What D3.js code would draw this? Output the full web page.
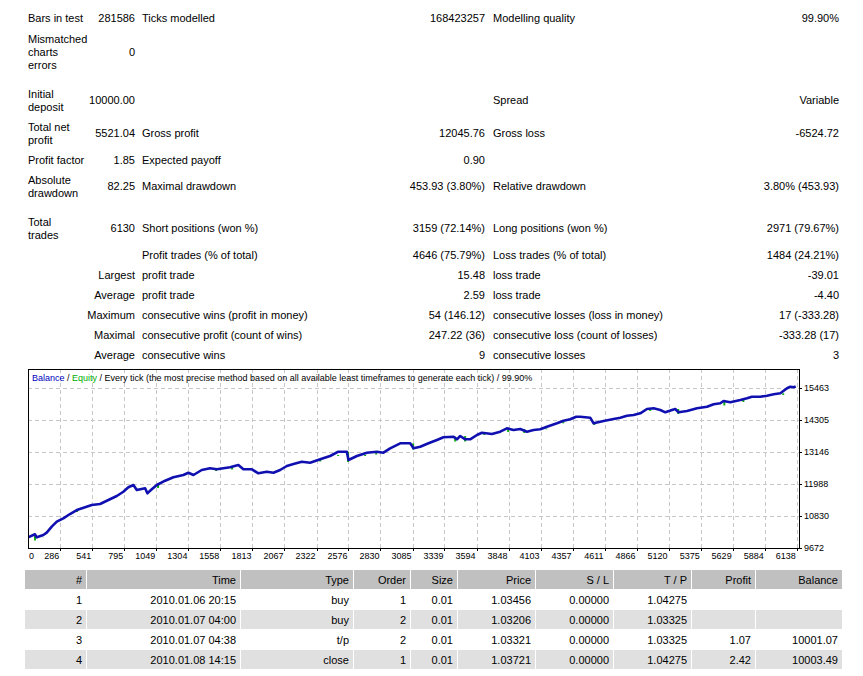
<!DOCTYPE html>
<html>
<head>
<meta charset="utf-8">
<script src="https://cdn.jsdelivr.net/npm/d3@7"></script>
<style>
  body { margin: 0; background: #fff; }
  svg text { font-family: Tahoma, "Liberation Sans", Arial, sans-serif; fill: #000; }
</style>
</head>
<body>
<div id="report"></div>
<script>
// summary table text, one row per line of the report
const statRows = [
  ["Bars in test", "281586", "Ticks modelled", "168423257", "Modelling quality", "99.90%"],
  ["Mismatched\ncharts\nerrors", "0", "", "", "", ""],
  ["Initial\ndeposit", "10000.00", "", "", "Spread", "Variable"],
  ["Total net\nprofit", "5521.04", "Gross profit", "12045.76", "Gross loss", "-6524.72"],
  ["Profit factor", "1.85", "Expected payoff", "0.90", "", ""],
  ["Absolute\ndrawdown", "82.25", "Maximal drawdown", "453.93 (3.80%)", "Relative drawdown", "3.80% (453.93)"],
  ["Total\ntrades", "6130", "Short positions (won %)", "3159 (72.14%)", "Long positions (won %)", "2971 (79.67%)"],
  ["", "", "Profit trades (% of total)", "4646 (75.79%)", "Loss trades (% of total)", "1484 (24.21%)"],
  ["", "Largest", "profit trade", "15.48", "loss trade", "-39.01"],
  ["", "Average", "profit trade", "2.59", "loss trade", "-4.40"],
  ["", "Maximum", "consecutive wins (profit in money)", "54 (146.12)", "consecutive losses (loss in money)", "17 (-333.28)"],
  ["", "Maximal", "consecutive profit (count of wins)", "247.22 (36)", "consecutive loss (count of losses)", "-333.28 (17)"],
  ["", "Average", "consecutive wins", "9", "consecutive losses", "3"]
];

// balance curve (trade number -> balance)
const tradeIdx = [0, 85, 99, 151, 178, 218, 258, 310, 363, 417, 483, 536, 602, 668, 735, 787, 827, 867, 894, 960,
  978, 1013, 1053, 1119, 1185, 1264, 1304, 1344, 1410, 1476, 1530, 1582, 1635, 1701, 1741, 1808, 1860, 1927, 1980, 2033,
  2086, 2139, 2205, 2271, 2351, 2430, 2496, 2563, 2576, 2643, 2722, 2802, 2854, 2907, 2987, 3066, 3093, 3146, 3212, 3279,
  3331, 3411, 3438, 3464, 3504, 3543, 3597, 3636, 3716, 3782, 3835, 3888, 3941, 3994, 4047, 4100, 4153, 4233, 4285, 4338,
  4386, 4418, 4497, 4524, 4603, 4683, 4736, 4789, 4842, 4895, 4948, 5001, 5054, 5094, 5147, 5173, 5199, 5266, 5346, 5425,
  5478, 5531, 5557, 5610, 5690, 5743, 5782, 5849, 5902, 5955, 6008, 6061, 6088, 6114, 6130];
const balance = [10000, 10168, 10059, 10142, 10226, 10443, 10624, 10747, 10902, 11047, 11145, 11228, 11264, 11409, 11554, 11709, 11869, 11952, 11771, 11833,
  11652, 11796, 11952, 12108, 12231, 12314, 12397, 12314, 12495, 12556, 12520, 12556, 12593, 12676, 12520, 12520, 12375, 12433, 12397, 12495,
  12640, 12712, 12795, 12759, 12882, 13001, 13157, 13157, 12857, 13001, 13121, 13157, 13121, 13280, 13461, 13461, 13280, 13338, 13461, 13581,
  13678, 13700, 13606, 13725, 13606, 13606, 13762, 13845, 13798, 13881, 14004, 13942, 13979, 13881, 13942, 13968, 14062, 14185, 14279, 14330,
  14424, 14424, 14388, 14185, 14268, 14340, 14388, 14460, 14485, 14547, 14703, 14728, 14666, 14583, 14666, 14703, 14583, 14630, 14728, 14786,
  14873, 14909, 14992, 14945, 15028, 15090, 15148, 15148, 15184, 15234, 15271, 15452, 15509, 15488, 15521];

// equity dips below the balance (trade number -> lowest equity)
const equityIdx = [85, 148, 419, 1063, 1524, 1651, 2192, 2351, 2494, 2573, 2708, 2796, 3090, 3424, 3503, 3655, 3845, 3973,
  4148, 4283, 4529, 4974, 5197, 5563, 5714, 6031, 6125];
const equityLow = [9943, 10052, 10975, 11843, 12458, 12513, 12712, 12802, 13038, 12784, 13038, 13056, 13237, 13526, 13526, 13761, 13870, 13834,
  13997, 14232, 14123, 14630, 14521, 14829, 14956, 15209, 15462];

const xTicks = [0, 286, 541, 795, 1049, 1304, 1558, 1813, 2067, 2322, 2576, 2830, 3085, 3339, 3594, 3848, 4103, 4357,
  4611, 4866, 5120, 5375, 5629, 5884, 6138];
const yTicks = [9672, 10830, 11988, 13146, 14305, 15463];

// trade list
const tradeCols = ["#", "Time", "Type", "Order", "Size", "Price", "S / L", "T / P", "Profit", "Balance"];
const tradeNo = ["1", "2", "3", "4"];
const tradeTime = ["2010.01.06 20:15", "2010.01.07 04:00", "2010.01.07 04:38", "2010.01.08 14:15"];
const tradeType = ["buy", "buy", "t/p", "close"];
const tradeOrder = ["1", "2", "2", "1"];
const tradeSize = ["0.01", "0.01", "0.01", "0.01"];
const tradePrice = ["1.03456", "1.03206", "1.03321", "1.03721"];
const tradeSL = ["0.00000", "0.00000", "0.00000", "0.00000"];
const tradeTP = ["1.04275", "1.03325", "1.03325", "1.04275"];
const tradeProfit = ["", "", "1.07", "2.42"];
const tradeBalance = ["", "", "10001.07", "10003.49"];

const W = 863, H = 676;
const svg = d3.select("#report").append("svg")
    .attr("width", W)
    .attr("height", H)
    .attr("viewBox", [0, 0, W, H]);
svg.append("rect").attr("width", W).attr("height", H).attr("fill", "#fff");

// ---- summary block ----
const rowY = [18, 52, 100, 133, 160, 186, 228, 255, 275, 295, 315, 335, 355];
const colX = [28, 135, 142, 485, 493, 839];
const colAnchor = ["start", "end", "start", "end", "start", "end"];
const lineH = 13;

const stats = svg.append("g").attr("font-size", 11);
statRows.forEach((row, i) => {
  row.forEach((txt, c) => {
    if (!txt) return;
    const lines = txt.split("\n");
    const t = stats.append("text")
        .attr("text-anchor", colAnchor[c])
        .attr("dominant-baseline", "central");
    lines.forEach((ln, k) => {
      t.append("tspan")
          .attr("x", colX[c])
          .attr("y", rowY[i] + (k - (lines.length - 1) / 2) * lineH)
          .text(ln);
    });
  });
});

// ---- balance / equity chart ----
const box = {left: 28, top: 369, right: 799, bottom: 548};

const x = d3.scaleLinear().domain([286, 6138]).range([60.3, 796.7]);
const y = d3.scaleLinear().domain([9672, 15463]).range([box.bottom, 388]);

const chart = svg.append("g");

chart.append("clipPath").attr("id", "plotclip")
  .append("rect")
    .attr("x", box.left).attr("y", box.top)
    .attr("width", box.right - box.left).attr("height", box.bottom - box.top);

// grid
chart.append("g")
    .attr("stroke", "#c8c8c8")
    .attr("stroke-dasharray", "4,3")
    .selectAll("line.v")
    .data(xTicks.filter(d => d > 0))
    .join("line")
      .attr("x1", d => Math.round(x(d)) + 0.5).attr("x2", d => Math.round(x(d)) + 0.5)
      .attr("y1", box.top).attr("y2", box.bottom);

chart.append("g")
    .attr("stroke", "#c8c8c8")
    .attr("stroke-dasharray", "4,3")
    .selectAll("line.h")
    .data(yTicks.slice(1))
    .join("line")
      .attr("x1", box.left).attr("x2", box.right)
      .attr("y1", d => Math.round(y(d)) + 0.5).attr("y2", d => Math.round(y(d)) + 0.5);

// series
const pts = tradeIdx.map((n, i) => [n, balance[i]]);
const balAt = n => balance[Math.max(0, d3.bisectRight(tradeIdx, n) - 1)];

const plot = chart.append("g").attr("clip-path", "url(#plotclip)");

plot.append("g")
    .attr("stroke", "#10b010")
    .attr("stroke-width", 2)
    .selectAll("line")
    .data(equityIdx.map((n, i) => [n, equityLow[i]]))
    .join("line")
      .attr("x1", d => x(d[0])).attr("x2", d => x(d[0]))
      .attr("y1", d => y(balAt(d[0]))).attr("y2", d => y(d[1]));

plot.append("path")
    .datum(pts)
    .attr("fill", "none")
    .attr("stroke", "#1010b0")
    .attr("stroke-width", 2.6)
    .attr("stroke-linejoin", "round")
    .attr("d", d3.line().x(d => x(d[0])).y(d => y(d[1])));

// frame
chart.append("rect")
    .attr("x", box.left + 0.5).attr("y", box.top + 0.5)
    .attr("width", box.right - box.left).attr("height", box.bottom - box.top)
    .attr("fill", "none").attr("stroke", "#000");

// axes ticks + labels
const axisFont = 9;
chart.append("g")
    .attr("stroke", "#000")
    .selectAll("line")
    .data(xTicks.filter(d => d > 0))
    .join("line")
      .attr("x1", d => Math.round(x(d)) + 0.5).attr("x2", d => Math.round(x(d)) + 0.5)
      .attr("y1", box.bottom).attr("y2", box.bottom + 3);

chart.append("g")
    .attr("font-size", axisFont)
    .attr("text-anchor", "end")
    .selectAll("text")
    .data(xTicks)
    .join("text")
      .attr("x", d => Math.max(x(d) - 1, 34))
      .attr("y", 556)
      .attr("dominant-baseline", "central")
      .text(d => d);

chart.append("g")
    .attr("stroke", "#000")
    .selectAll("line")
    .data(yTicks)
    .join("line")
      .attr("x1", box.right).attr("x2", box.right + 3)
      .attr("y1", d => Math.round(y(d)) + 0.5).attr("y2", d => Math.round(y(d)) + 0.5);

chart.append("g")
    .attr("font-size", axisFont)
    .selectAll("text")
    .data(yTicks)
    .join("text")
      .attr("x", 804)
      .attr("y", d => y(d))
      .attr("dominant-baseline", "central")
      .text(d => d);

// title
const title = chart.append("text")
    .attr("x", 32).attr("y", 377.5)
    .attr("font-size", axisFont)
    .attr("dominant-baseline", "central");
title.append("tspan").style("fill", "#0000c0").text("Balance");
title.append("tspan").text(" / ");
title.append("tspan").style("fill", "#00b000").text("Equity");
title.append("tspan").text(" / Every tick (the most precise method based on all available least timeframes to generate each tick) / 99.90%");

// ---- trade list ----
const cellLeft = [25, 87, 241, 354, 411, 458, 536, 614, 692, 756, 843];
const tradeData = [tradeNo, tradeTime, tradeType, tradeOrder, tradeSize, tradePrice, tradeSL, tradeTP, tradeProfit, tradeBalance];
const table = svg.append("g").attr("font-size", 11);

function tableRow(cells, top, h, fill) {
  cells.forEach((txt, c) => {
    const x0 = cellLeft[c], x1 = cellLeft[c + 1] - 1;
    if (fill) {
      table.append("rect")
          .attr("x", x0).attr("y", top)
          .attr("width", x1 - x0).attr("height", h)
          .attr("fill", fill);
    }
    table.append("text")
        .attr("x", x1 - 4)
        .attr("y", top + h / 2)
        .attr("text-anchor", "end")
        .attr("dominant-baseline", "central")
        .text(txt);
  });
}

tableRow(tradeCols, 570, 19, "#c0c0c0");
tradeNo.forEach((_, i) => {
  tableRow(tradeData.map(col => col[i]), 590 + i * 20, 19, i % 2 ? "#e0e0e0" : null);
});
</script>
</body>
</html>
